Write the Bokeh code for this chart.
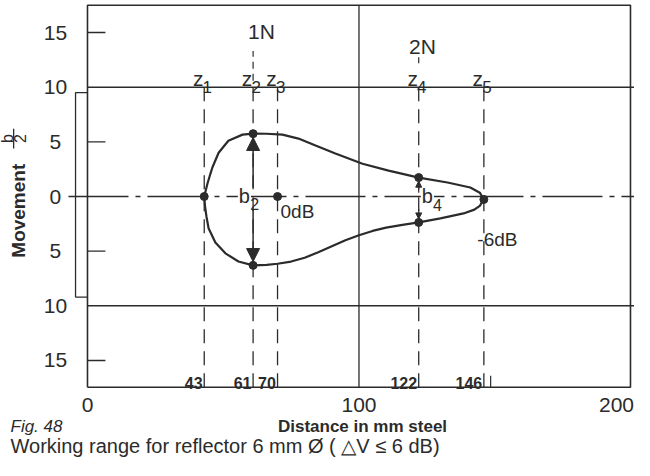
import math
from bokeh.plotting import figure
from bokeh.models import Range1d, Arrow, NormalHead
from bokeh.core.properties import value
from bokeh.embed import file_html
from bokeh.resources import INLINE

# ---------------- data ----------------
x_ticks = [0, 100, 200]
x_tick_labels = ["0", "100", "200"]
y_ticks = [15, 10, 5, 0, -5, -10, -15]
y_tick_labels = ["15", "10", "5", "0", "5", "10", "15"]
short_ticks = [15, 5, -5, -15]
grid_y = [10, -10]

z_pos = [43, 61, 70, 122, 146]
z_sub = ["1", "2", "3", "4", "5"]
z_dist_labels = ["43", "61", "70", "122", "146"]

upper_x = [43, 43.5, 44.2, 45.3, 46.0, 48.3, 51.9, 57.1, 61, 66, 71.8, 77.7, 84.0, 91.3, 101.3, 110.9, 122, 132.6, 141, 144.5, 146]
upper_y = [0, 0.5, 1.19, 2.1, 2.65, 4.0, 5.1, 5.66, 5.75, 5.74, 5.66, 5.3, 4.66, 3.93, 3.0, 2.37, 1.73, 1.28, 0.82, 0.35, -0.27]
lower_x = [146, 144.5, 142.5, 138.5, 130, 122, 116, 110, 105, 100, 95, 90, 85, 80, 75, 70, 66, 61, 55.6, 50.8, 47.1, 44.6, 43.8, 43.3, 43]
lower_y = [-0.27, -0.85, -1.2, -1.55, -2.0, -2.37, -2.6, -2.85, -3.15, -3.55, -4.0, -4.55, -5.1, -5.6, -5.95, -6.15, -6.26, -6.3, -5.95, -5.2, -4.2, -2.9, -1.8, -0.9, 0]

dot_x = [43, 61, 61, 70, 122, 122, 146]
dot_y = [0, 5.75, -6.3, 0, 1.73, -2.37, -0.27]

INK = "#2b2b2b"
SANS = value("Liberation Sans")

X0, X1 = 0, 200
YB, YT = -17.45, 17.5
XR = 201.48

p = figure(width=634, height=460,
           x_range=Range1d(-32.04, XR), y_range=Range1d(-24.15, 17.93),
           output_backend="svg", toolbar_location=None, min_border=0,
           background_fill_color="white", border_fill_color="white")
p.xaxis.visible = False
p.yaxis.visible = False
p.grid.visible = False
p.outline_line_color = None

# frame of the plot
p.multi_line(xs=[[X0, X1, X1, X0, X0]], ys=[[YB, YB, YT, YT, YB]], line_color=INK, line_width=1.6)
# vertical line at 100
p.segment(x0=[100], y0=[YB], x1=[100], y1=[YT], line_color=INK, line_width=1.3)
# horizontal lines at +-10
p.segment(x0=[X0] * len(grid_y), y0=grid_y, x1=[XR] * len(grid_y), y1=grid_y, line_color=INK, line_width=1.4)
# short ticks at 15 / 5
p.segment(x0=[X0] * len(short_ticks), y0=short_ticks, x1=[6.6] * len(short_ticks), y1=short_ticks,
          line_color=INK, line_width=1.4)
# bracket (b/2 range)
p.line(x=[0, -4.4, -4.4, 0], y=[9.5, 9.5, -9.2, -9.2], line_color=INK, line_width=1.3)
# centre line
p.line(x=[-7, XR], y=[0, 0], line_color=INK, line_width=1.3, line_dash="60 7 5 7")

# dashed verticals at z positions
p.segment(x0=z_pos, y0=[10] * len(z_pos), x1=z_pos, y1=[YB] * len(z_pos),
          line_color=INK, line_width=1.3, line_dash="14 8")
# near-field marks above z2 and z4
p.segment(x0=[z_pos[1], z_pos[3]], y0=[10.6, 12.2], x1=[z_pos[1], z_pos[3]], y1=[13.3, 12.75],
          line_color=INK, line_width=1.2, line_dash="7 5")
# small extra tick near 146
p.segment(x0=[148.5], y0=[YB], x1=[148.5], y1=[-16.4], line_color=INK, line_width=1.2)

# the working-range curve
p.line(x=upper_x + lower_x, y=upper_y + lower_y, line_color=INK, line_width=2.2)
p.scatter(x=dot_x, y=dot_y, size=8, fill_color=INK, line_color=INK)

# arrows b2, b4
big = dict(size=13, fill_color=INK, line_color=INK)
small = dict(size=6, fill_color=INK, line_color=INK)
p.add_layout(Arrow(end=NormalHead(**big), x_start=61, y_start=0.8, x_end=61, y_end=5.4, line_color=INK, line_width=1.5))
p.add_layout(Arrow(end=NormalHead(**big), x_start=61, y_start=-1.2, x_end=61, y_end=-5.95, line_color=INK, line_width=1.5))
p.add_layout(Arrow(end=NormalHead(**small), x_start=122, y_start=0.35, x_end=122, y_end=1.4, line_color=INK, line_width=1.2))
p.add_layout(Arrow(end=NormalHead(**small), x_start=122, y_start=-1.15, x_end=122, y_end=-2.05, line_color=INK, line_width=1.2))

# tick labels
p.text(x=[-11.8] * len(y_ticks), y=y_ticks, text=y_tick_labels, text_font=SANS, text_font_size="21px",
       text_align="center", text_baseline="middle", text_color=INK)
p.text(x=x_ticks, y=[-19.1] * len(x_ticks), text=x_tick_labels, text_font=SANS, text_font_size="21px",
       x_offset=[0, 0, -14], text_align="center", text_baseline="middle", text_color=INK)

# z labels
p.text(x=[z - 0.3 for z in z_pos], y=[10.75] * len(z_pos), text=["z"] * len(z_pos), text_font=SANS,
       text_font_size="21px", text_align="right", text_baseline="alphabetic", text_color=INK)
p.text(x=[z - 0.6 for z in z_pos], y=[10.05] * len(z_pos), text=z_sub, text_font=SANS,
       text_font_size="17px", text_align="left", text_baseline="alphabetic", text_color=INK)
# distance labels at the bottom
p.text(x=[z - 0.6 for z in z_pos], y=[-17.1] * len(z_pos), text=z_dist_labels, text_font=SANS,
       text_font_style="bold", text_font_size="16px", text_align="right", text_baseline="alphabetic",
       text_color=INK)

# near field labels
p.text(x=[64.1, 123.4], y=[15.1, 13.7], text=["1N", "2N"], text_font=SANS, text_font_size="21px",
       text_align="center", text_baseline="middle", text_color=INK)

# b2 / b4 labels (white background breaks the centre line)
p.text(x=[57.8, 125.2], y=[0.05, 0.05], text=["b", "b"], text_font=SANS, text_font_size="20px",
       text_align="center", text_baseline="middle", text_color=INK,
       background_fill_color="white", padding=1)
p.text(x=[61.6, 128.9], y=[-0.65, -0.8], text=["2", "4"], text_font=SANS, text_font_size="16px",
       text_align="center", text_baseline="middle", text_color=INK)

# dB labels
p.text(x=[71.1, 143.6], y=[-1.37, -3.93], text=["0dB", "-6dB"], text_font=SANS, text_font_size="19px",
       text_align="left", text_baseline="middle", text_color=INK)

# y axis title: Movement  b/2
p.text(x=[-25.4], y=[-1.3], text=["Movement"], angle=math.pi / 2, text_font=SANS, text_font_style="bold",
       text_font_size="19px", text_align="center", text_baseline="middle", text_color=INK)
p.text(x=[-29.6, -24.9], y=[5.3, 5.3], text=["b", "2"], angle=math.pi / 2, text_font=SANS,
       text_font_size="16px", text_align="center", text_baseline="middle", text_color=INK)
p.segment(x0=[-27.2], y0=[6.2], x1=[-27.2], y1=[4.4], line_color=INK, line_width=1.3)

# captions
p.text(x=[-28.36], y=[-21.0], text=["Fig. 48"], text_font=SANS, text_font_style="italic", text_font_size="17px",
       text_align="left", text_baseline="middle", text_color=INK)
p.text(x=[101.3], y=[-21.0], text=["Distance in mm steel"], text_font=SANS, text_font_style="bold",
       text_font_size="17px", text_align="center", text_baseline="middle", text_color=INK)
p.text(x=[-28.36], y=[-22.85], text=["Working range for reflector 6 mm \u00d8 ( \u25b3V \u2264 6 dB)"], text_font=SANS,
       text_font_size="20px", text_align="left", text_baseline="middle", text_color=INK)

open("out.html", "w").write(file_html(p, INLINE))
